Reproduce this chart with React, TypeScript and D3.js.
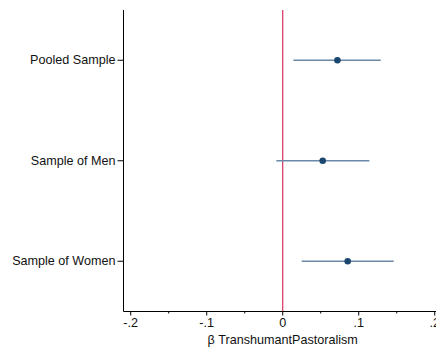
import { useRef, useEffect } from 'react';
import * as d3 from 'd3';

const samples = ['Pooled Sample', 'Sample of Men', 'Sample of Women'];
const estimates = [0.072, 0.0526, 0.0855];
const lowerCI = [0.014, -0.0084, 0.025];
const upperCI = [0.129, 0.114, 0.146];
const majorTicks = [-0.2, -0.1, 0, 0.1, 0.2];
const minorTicks = [-0.15, -0.05, 0.05, 0.15];
const tickLabels = ['-.2', '-.1', '0', '.1', '.2'];
const xTitle = 'β TranshumantPastoralism';

export default function App() {
  const svgRef = useRef<SVGSVGElement>(null);

  useEffect(() => {
    if (!svgRef.current) return;
    const svg = d3.select(svgRef.current);
    svg.selectAll('*').remove();

    const width = 436;
    const height = 351;
    const left = 123.5;
    const top = 10;
    const bottom = 311.5;

    const x = d3.scaleLinear().domain([-0.2095, 0.2]).range([left, left + 0.4095 * 760]);
    const y = d3.scaleLinear().domain([0.5, 3.5]).range([top, bottom]);

    const font = 'Helvetica, Arial, "Liberation Sans", sans-serif';
    const fs = '12.6px';

    svg.append('rect').attr('width', width).attr('height', height).attr('fill', '#fff');

    // zero reference line
    svg.append('line')
      .attr('x1', x(0)).attr('x2', x(0))
      .attr('y1', top).attr('y2', bottom)
      .attr('stroke', '#d9305c').attr('stroke-width', 1.2);

    // CIs
    svg.selectAll('.ci')
      .data(samples)
      .enter()
      .append('line')
      .attr('x1', (_, i) => x(lowerCI[i]))
      .attr('x2', (_, i) => x(upperCI[i]))
      .attr('y1', (_, i) => y(i + 1))
      .attr('y2', (_, i) => y(i + 1))
      .attr('stroke', '#6a89a8')
      .attr('stroke-width', 1.4);

    // point estimates
    svg.selectAll('.pt')
      .data(samples)
      .enter()
      .append('circle')
      .attr('cx', (_, i) => x(estimates[i]))
      .attr('cy', (_, i) => y(i + 1))
      .attr('r', 3.3)
      .attr('fill', '#1a476f');

    // axes lines
    svg.append('line')
      .attr('x1', left).attr('x2', width)
      .attr('y1', bottom).attr('y2', bottom)
      .attr('stroke', '#000').attr('stroke-width', 1);
    svg.append('line')
      .attr('x1', left).attr('x2', left)
      .attr('y1', top).attr('y2', bottom)
      .attr('stroke', '#000').attr('stroke-width', 1);

    // y ticks + labels
    samples.forEach((s, i) => {
      svg.append('line')
        .attr('x1', left - 6).attr('x2', left)
        .attr('y1', y(i + 1)).attr('y2', y(i + 1))
        .attr('stroke', '#000');
      svg.append('text')
        .attr('x', left - 8)
        .attr('y', y(i + 1))
        .attr('text-anchor', 'end')
        .attr('dominant-baseline', 'central')
        .attr('font-family', font)
        .attr('font-size', fs)
        .attr('fill', '#111')
        .text(s);
    });

    // x ticks
    majorTicks.forEach((t, i) => {
      svg.append('line')
        .attr('x1', x(t)).attr('x2', x(t))
        .attr('y1', bottom).attr('y2', bottom + 4)
        .attr('stroke', '#000');
      svg.append('text')
        .attr('x', x(t))
        .attr('y', bottom + 11)
        .attr('text-anchor', 'middle')
        .attr('dominant-baseline', 'central')
        .attr('font-family', font)
        .attr('font-size', fs)
        .attr('fill', '#111')
        .text(tickLabels[i]);
    });
    minorTicks.forEach((t) => {
      svg.append('line')
        .attr('x1', x(t)).attr('x2', x(t))
        .attr('y1', bottom).attr('y2', bottom + 2)
        .attr('stroke', '#000');
    });

    svg.append('text')
      .attr('x', x(0.0))
      .attr('y', bottom + 28)
      .attr('text-anchor', 'middle')
      .attr('dominant-baseline', 'central')
      .attr('font-family', font)
      .attr('font-size', fs)
      .attr('fill', '#111')
      .text(xTitle);
  }, []);

  return (
    <svg
      ref={svgRef}
      width={436}
      height={351}
      style={{ position: 'absolute', left: 0, top: 0, display: 'block' }}
    />
  );
}
